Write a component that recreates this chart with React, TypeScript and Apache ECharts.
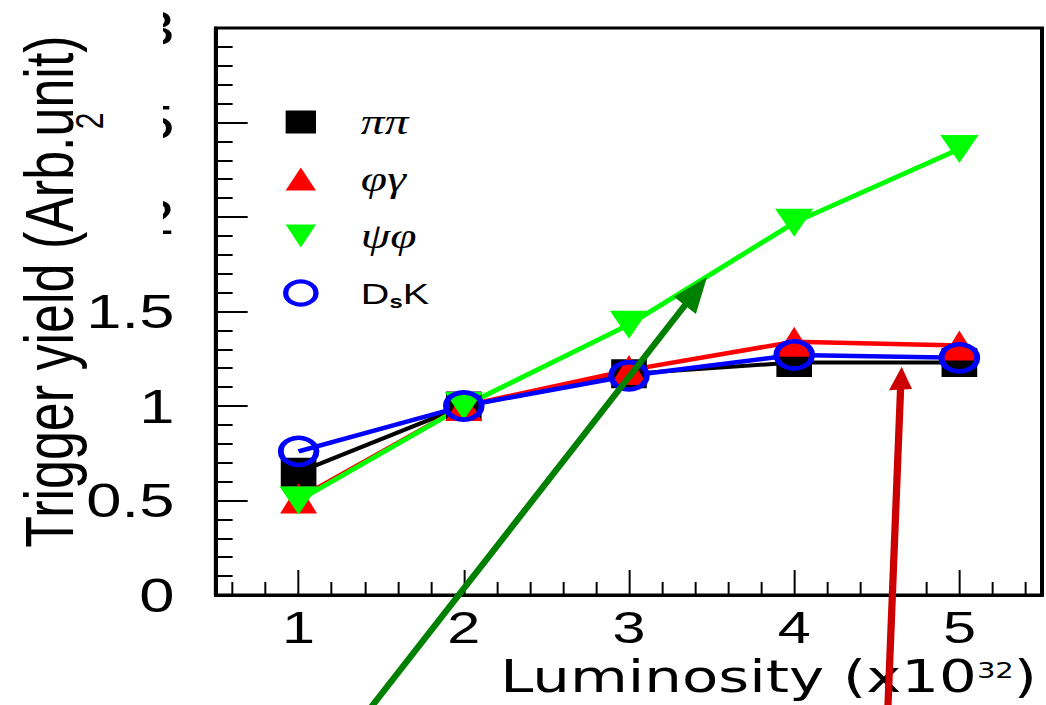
import { useEffect, useRef } from "react";
import * as echarts from "echarts";

// Trigger yield versus luminosity for four decay channels
const luminosity = [1, 2, 3, 4, 5];
const yieldPiPi = [0.65, 1.0, 1.17, 1.23, 1.23];
const yieldPhiGamma = [0.51, 1.0, 1.19, 1.34, 1.32];
const yieldPsiPhi = [0.5, 1.0, 1.43, 1.97, 2.36];
const yieldDsK = [0.76, 1.0, 1.16, 1.27, 1.255];
const channelNames = ["ππ", "φγ", "ψφ", "DsK"];

// The whole figure is drawn narrow and widened horizontally by CSS.
const STRETCH = 1.32;
const W = 1046;
const H = 705;
const innerW = W / STRETCH;
const sx = (x: number) => x / STRETCH;

const downTriangle = "path://M0,0L10,0L5,10Z";

const pairs = (ys: number[]) => luminosity.map((x, i) => [x, ys[i]]);

export default function App() {
  const ref = useRef<HTMLDivElement>(null);

  useEffect(() => {
    if (!ref.current) return;
    const chart = echarts.init(ref.current, undefined, { renderer: "svg" });

    const labelFont = "Liberation Sans";

    chart.setOption({
      animation: false,
      backgroundColor: "#fff",
      grid: {
        left: sx(216),
        top: 28,
        width: sx(1042) - sx(216),
        height: 567,
        show: true,
        borderColor: "#000",
        borderWidth: 3,
        backgroundColor: "transparent",
      },
      legend: {
        orient: "vertical",
        left: sx(283),
        top: 104,
        padding: 0,
        itemWidth: 23,
        itemHeight: 23,
        itemGap: 21,
        selectedMode: false,
        // every entry gets the same text height so the rows are evenly spaced
        formatter: (name: string) =>
          name === "DsK" ? "{d|D}{s|s}{d|K}{z| }" : "{g|" + name + "}",
        textStyle: {
          padding: [0, 0, 0, 29],
          color: "#000",
          fontSize: 36,
          rich: {
            g: {
              fontFamily: "Liberation Serif",
              fontStyle: "italic",
              fontSize: 36,
              color: "#000",
            },
            d: {
              fontFamily: labelFont,
              fontSize: 30,
              color: "#000",
            },
            s: {
              fontFamily: labelFont,
              fontSize: 18,
              fontWeight: "bold",
              verticalAlign: "bottom",
              color: "#000",
            },
            z: {
              fontFamily: labelFont,
              fontSize: 36,
              color: "#000",
            },
          },
        },
        data: [
          { name: channelNames[0], icon: "rect", itemStyle: { color: "#000000" } },
          { name: channelNames[1], icon: "triangle", itemStyle: { color: "#ff0000" } },
          { name: channelNames[2], icon: downTriangle, itemStyle: { color: "#00ff00" } },
          {
            name: channelNames[3],
            icon: "circle",
            itemStyle: { color: "#ffffff", borderColor: "#0000ff", borderWidth: 4 },
          },
        ],
      },
      xAxis: {
        type: "value",
        min: 0.5,
        max: 5.5,
        splitNumber: 5,
        minInterval: 1,
        maxInterval: 1,
        axisLine: { show: true, lineStyle: { color: "#000", width: 3 } },
        axisTick: { show: true, inside: true, length: 25, lineStyle: { color: "#000", width: 1.5 } },
        minorTick: { show: true, splitNumber: 5, length: 13, lineStyle: { color: "#000", width: 1.5 } },
        splitLine: { show: false },
        minorSplitLine: { show: false },
        axisLabel: {
          showMinLabel: false,
          showMaxLabel: false,
          margin: 15,
          fontSize: 45,
          lineHeight: 34,
          fontFamily: labelFont,
          color: "#000",
        },
      },
      yAxis: {
        type: "value",
        min: 0,
        max: 3,
        interval: 0.5,
        axisLine: { show: true, lineStyle: { color: "#000", width: 3 } },
        axisTick: { show: true, inside: true, length: 24, lineStyle: { color: "#000", width: 2 } },
        minorTick: { show: true, splitNumber: 5, length: 12.6, lineStyle: { color: "#000", width: 2 } },
        splitLine: { show: false },
        minorSplitLine: { show: false },
        axisLabel: {
          margin: 31.5,
          fontSize: 48,
          fontFamily: labelFont,
          color: "#000",
        },
      },
      series: [
        {
          name: channelNames[0],
          type: "line",
          data: pairs(yieldPiPi),
          symbol: "rect",
          symbolSize: [27, 29],
          itemStyle: { color: "#000000" },
          lineStyle: { color: "#000000", width: 4 },
          emphasis: { disabled: true },
          silent: true,
        },
        {
          name: channelNames[1],
          type: "line",
          data: pairs(yieldPhiGamma),
          symbol: "triangle",
          symbolSize: [28, 30],
          itemStyle: { color: "#ff0000" },
          lineStyle: { color: "#ff0000", width: 4.5 },
          emphasis: { disabled: true },
          silent: true,
        },
        {
          name: channelNames[2],
          type: "line",
          data: pairs(yieldPsiPhi),
          symbol: downTriangle,
          symbolKeepAspect: false,
          symbolSize: [29, 28],
          itemStyle: { color: "#00ff00" },
          lineStyle: { color: "#00ff00", width: 4.5 },
          emphasis: { disabled: true },
          silent: true,
        },
        {
          name: channelNames[3],
          type: "line",
          data: pairs(yieldDsK),
          symbol: "circle",
          symbolSize: 27,
          itemStyle: { color: "rgba(255,255,255,0)", borderColor: "#0000ff", borderWidth: 4.5 },
          lineStyle: { color: "#0000ff", width: 4.5 },
          emphasis: { disabled: true },
          silent: true,
        },
      ],
      graphic: {
        elements: [
          // blank band over the upper part of the y tick labels
          {
            type: "rect",
            z: 100,
            silent: true,
            shape: { x: 0, y: 0, width: sx(163), height: 255 },
            style: { fill: "#ffffff" },
          },
          {
            type: "text",
            z: 101,
            x: sx(49),
            y: 291.5,
            rotation: Math.PI / 2,
            style: {
              text: "Trigger yield (Arb.unit)",
              fontSize: 52,
              fontFamily: labelFont,
              fill: "#000",
              align: "center",
              verticalAlign: "middle",
              textAlign: "center",
              textVerticalAlign: "middle",
            },
          },
          {
            type: "text",
            z: 101,
            x: sx(89),
            y: 121,
            rotation: Math.PI / 2,
            style: {
              text: "2",
              fontSize: 30,
              fontFamily: labelFont,
              fill: "#000",
              align: "center",
              verticalAlign: "middle",
              textAlign: "center",
              textVerticalAlign: "middle",
            },
          },
          {
            type: "text",
            z: 101,
            x: sx(1037),
            y: 676,
            style: {
              text: "Luminosity (x10{sup|32})",
              fontSize: 45,
              lineHeight: 34,
              fontFamily: "DejaVu Sans",
              fill: "#000",
              align: "right",
              verticalAlign: "middle",
              textAlign: "right",
              textVerticalAlign: "middle",
              rich: {
                sup: {
                  fontSize: 22,
                  lineHeight: 20,
                  fontFamily: "DejaVu Sans",
                  fill: "#000",
                  verticalAlign: "top",
                },
              },
            },
          },
          // annotation arrows
          {
            type: "line",
            z: 200,
            silent: true,
            shape: { x1: sx(365), y1: 715, x2: sx(691), y2: 297.5 },
            style: { stroke: "#008000", lineWidth: 5.2 },
          },
          {
            type: "polygon",
            z: 200,
            silent: true,
            shape: { points: [[sx(707), 277], [sx(695.9), 314.0], [sx(673.9), 296.8]] },
            style: { fill: "#008000" },
          },
          {
            type: "line",
            z: 200,
            silent: true,
            shape: { x1: sx(887.6), y1: 715, x2: sx(900.8), y2: 383 },
            style: { stroke: "#cc0000", lineWidth: 5.5 },
          },
          {
            type: "polygon",
            z: 200,
            silent: true,
            shape: { points: [[sx(901.7), 366.7], [sx(889), 390.3], [sx(912), 389.1]] },
            style: { fill: "#cc0000" },
          },
        ],
      },
    });

    return () => chart.dispose();
  }, []);

  return (
    <div
      style={{
        position: "fixed",
        left: 0,
        top: 0,
        width: W,
        height: H,
        overflow: "hidden",
        background: "#fff",
      }}
    >
      <div
        ref={ref}
        style={{
          width: innerW,
          height: H,
          transform: `scaleX(${STRETCH})`,
          transformOrigin: "0 0",
        }}
      />
    </div>
  );
}
